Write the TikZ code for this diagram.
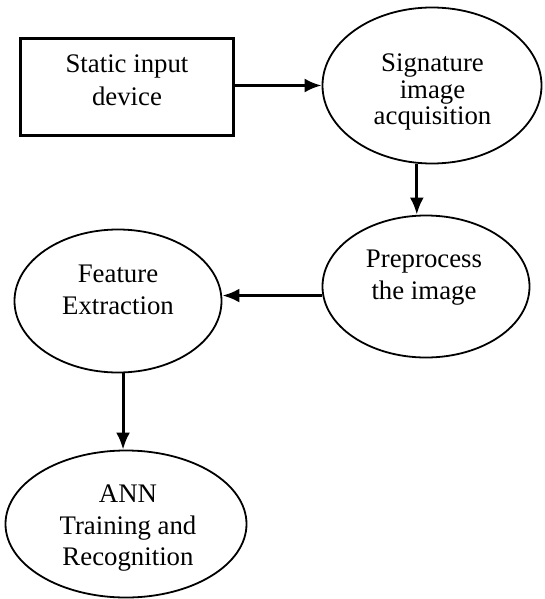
\documentclass[tikz,border=0pt]{standalone}
\usepackage{fontspec}
\setmainfont{Liberation Serif}
\usetikzlibrary{shapes.geometric,arrows.meta}

\tikzset{
  box/.style={draw, line width=2.2pt, inner sep=0pt, minimum width=213pt, minimum height=97pt},
  oval/.style={draw, ellipse, line width=1.8pt, inner sep=0pt},
  txt/.style={align=center, font=\fontsize{26.8}{32}\selectfont, inner sep=0pt},
  arr/.style={-{Latex[length=17pt,width=14pt]}, line width=2.9pt},
}

\begin{document}
\begin{tikzpicture}[x=1pt, y=-1pt]
\useasboundingbox (0,0) rectangle (545,599);
% shapes
\node[box] (dev) at (127,87) {};
\node[oval, minimum width=219pt, minimum height=156pt] (acq) at (432,85.5) {};
\node[oval, minimum width=207pt, minimum height=142pt] (pre) at (426,286.5) {};
\node[oval, minimum width=207pt, minimum height=143pt] (feat) at (118,301) {};
\node[oval, minimum width=241pt, minimum height=147pt] (ann) at (126,524) {};
% texts
\node[txt, font=\fontsize{26.8}{33}\selectfont] (dev-t) at (127,80.5) {Static input\\device};
\node[txt, font=\fontsize{26.8}{26.5}\selectfont] (acq-t) at (432.5,92) {Signature\\image\\acquisition};
\node[txt] (pre-t) at (424,278) {Preprocess\\the image};
\node[txt] (feat-t) at (118,290) {Feature\\Extraction};
\node[txt, font=\fontsize{26.8}{31.5}\selectfont] (ann-t) at (128,528.5) {ANN\\Training and\\Recognition};
% arrows
\draw[arr] (dev.east |- acq.west) -- (acq.west);
\draw[arr] (acq.259) -- (acq.259 |- pre.north);
\draw[arr] (pre.185) -- (pre.185 -| feat.east);
\draw[arr] (feat.274) -- (feat.274 |- ann.north);
\end{tikzpicture}
\end{document}
